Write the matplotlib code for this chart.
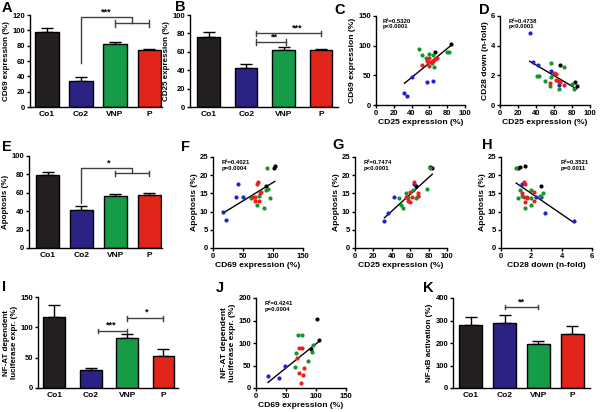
import numpy as np
import matplotlib
matplotlib.use('Agg')
import matplotlib.pyplot as plt

plt.rcParams['font.family'] = ['Liberation Sans', 'DejaVu Sans']
plt.rcParams['font.weight'] = 'bold'
plt.rcParams['axes.labelweight'] = 'bold'
plt.rcParams['axes.linewidth'] = 1.0
plt.rcParams['xtick.major.width'] = 1.0
plt.rcParams['ytick.major.width'] = 1.0
plt.rcParams['xtick.major.size'] = 2.5
plt.rcParams['ytick.major.size'] = 2.5

# ---- data ----
groups = ['Co1', 'Co2', 'VNP', 'P']
bar_colors = ['#231f20', '#2b2383', '#169b47', '#e1251b']
dot_colors = {'Co1': '#000000', 'Co2': '#1c22d6', 'VNP': '#10962c', 'P': '#f01c1c'}

cd69_mean = [98, 34, 82, 74]
cd69_err = [5, 5.5, 2.5, 1.5]
cd25_mean = [76.5, 42, 62, 62]
cd25_err = [5.5, 4.5, 3.5, 1]
apo_mean = [79, 41.5, 56, 58]
apo_err = [3.5, 4.5, 2.5, 2]
nfat_mean = [116.5, 29.5, 82, 52.5]
nfat_err = [20, 4, 7, 11]
nfkb_mean = [282, 289, 197, 240]
nfkb_err = [35, 35, 12, 36]

# C: CD25 vs CD69
c_x = [32, 35, 41, 57, 64, 66, 84, 48, 52, 56, 60, 58, 64, 65, 80, 82, 63,
       52, 57, 60, 62, 64, 66, 69, 59]
c_y = [20, 16, 48, 38, 41, 89, 102, 95, 85, 79, 86, 72, 85, 64, 90, 90, 70,
       68, 75, 80, 72, 75, 77, 80, 66]
c_grp = ['Co2'] * 5 + ['Co1'] * 2 + ['VNP'] * 10 + ['P'] * 8

# D: CD25 vs CD28 down
d_x = [33, 37, 42.5, 57, 65, 67, 83, 85, 57, 41, 43, 50, 55, 66, 71, 80, 82, 64, 57,
       55, 60, 62, 62, 65, 67, 71]
d_y = [4.83, 2.9, 2.7, 2.3, 1.35, 2.7, 1.53, 1.25, 2.8, 1.95, 1.95, 1.65, 1.28, 1.1,
       2.58, 1.4, 1.05, 1.6, 1.9, 1.5, 2.18, 2.1, 1.7, 1.65, 1.55, 1.38]
d_grp = ['Co2'] * 5 + ['Co1'] * 3 + ['VNP'] * 11 + ['P'] * 7

# F: CD69 vs apoptosis
f_x = [17, 22, 38, 42, 50, 89, 101, 103, 63, 73, 77, 85, 90, 91, 95, 88,
       67, 70, 70, 73, 75, 76, 78, 80]
f_y = [9.8, 7.6, 13.9, 17.5, 13.9, 17, 22.1, 22.4, 13.8, 11.8, 14.2, 11, 22, 16.3,
       13.7, 15.8, 13.9, 14, 12.8, 17.7, 18.1, 13, 15, 15.3]
f_grp = ['Co2'] * 5 + ['Co1'] * 3 + ['VNP'] * 8 + ['P'] * 8

# G: CD25 vs apoptosis
g_x = [32, 36, 42, 56, 64, 66, 82, 84, 48, 50, 52, 55, 58, 63, 66, 69, 78, 81,
       55, 58, 60, 60, 62, 64, 68, 68]
g_y = [7.5, 9.7, 13.9, 13.9, 17.5, 17, 22.3, 22.1, 13.7, 11.8, 11, 15, 13.8, 16,
       13.8, 14.2, 16.2, 22, 14, 12.8, 12.7, 15.3, 14, 18, 15, 14.2]
g_grp = ['Co2'] * 5 + ['Co1'] * 3 + ['VNP'] * 10 + ['P'] * 8

# H: CD28 down vs apoptosis
h_x = [1.4, 2.3, 2.65, 2.9, 4.8, 1.1, 1.25, 1.55, 2.65, 1.0, 1.15, 1.25, 1.4, 1.6,
       1.7, 1.95, 2.0, 2.55, 2.8, 1.95, 1.4, 1.5, 1.5, 1.55, 1.6, 1.7, 2.15, 2.2]
h_y = [17.5, 13.9, 13.9, 9.7, 7.5, 22, 22.2, 22.4, 17, 22, 13.7, 15.8, 14.2, 11,
       13.8, 16, 11.8, 14.2, 15.1, 13.7, 15, 18, 14, 17.5, 12.7, 14, 15.3, 12.8]
h_grp = ['Co2'] * 5 + ['Co1'] * 4 + ['VNP'] * 11 + ['P'] * 8

# J: CD69 vs NF-AT
j_x = [20, 38, 48, 92, 102, 105, 65, 67, 70, 77, 87, 93, 95,
       68, 72, 72, 77, 78, 80, 75]
j_y = [27, 23, 50, 87, 153, 107, 47, 78, 117, 118, 60, 80, 96,
       67, 89, 33, 89, 30, 44, 12]
j_grp = ['Co2'] * 3 + ['Co1'] * 3 + ['VNP'] * 7 + ['P'] * 7

W, H = 600.0, 412.0
fig = plt.figure(figsize=(6, 4.12), dpi=100)

TICK_FS = 5.5
LAB_FS = 5.8


def add_ax(left, top, right, bottom):
    ax = fig.add_axes([left / W, 1 - bottom / H, (right - left) / W, (bottom - top) / H])
    ax.spines['top'].set_visible(False)
    ax.spines['right'].set_visible(False)
    ax.tick_params(labelsize=TICK_FS, pad=1)
    return ax


def bar_panel(ax, means, errs, ylim, yticks, ylabel, xlim, width=0.68):
    x = np.arange(len(groups))
    ax.bar(x, means, width=width, color=bar_colors, edgecolor='black', linewidth=1.0, zorder=2)
    ax.errorbar(x, means, yerr=[np.zeros(len(errs)), errs], fmt='none', ecolor='black',
                elinewidth=1.0, capsize=4, capthick=1.0, zorder=1)
    ax.set_xticks(x)
    ax.set_xticklabels(groups, fontsize=6)
    ax.tick_params(axis='x', length=0, pad=3)
    ax.set_xlim(*xlim)
    ax.set_ylim(*ylim)
    ax.set_yticks(yticks)
    ax.set_ylabel(ylabel, fontsize=LAB_FS, labelpad=1.5)


def scatter_panel(ax, xs, ys, grp, xlim, xticks, ylim, yticks, xlabel, ylabel, stats, tx, ty):
    for g in groups:
        px = [a for a, k in zip(xs, grp) if k == g]
        py = [b for b, k in zip(ys, grp) if k == g]
        ax.scatter(px, py, s=9, color=dot_colors[g], linewidths=0, zorder=3)
    m, b = np.polyfit(xs, ys, 1)
    xx = np.array([min(xs), max(xs)])
    ax.plot(xx, m * xx + b, color='black', lw=1.0, zorder=2)
    ax.set_xlim(*xlim)
    ax.set_xticks(xticks)
    ax.set_ylim(*ylim)
    ax.set_yticks(yticks)
    ax.set_xlabel(xlabel, fontsize=LAB_FS + 0.3, labelpad=1.5)
    ax.set_ylabel(ylabel, fontsize=LAB_FS + 0.3, labelpad=1.5)
    ax.text(tx, ty, stats, transform=ax.transAxes, fontsize=4.3, va='top', ha='left',
            linespacing=1.2)


def hbracket(ax, x1, x2, y, cap, color='#404040'):
    ax.plot([x1, x2], [y, y], color=color, lw=1.0)
    ax.plot([x1, x1], [y - cap, y + cap], color=color, lw=1.0)
    ax.plot([x2, x2], [y - cap, y + cap], color=color, lw=1.0)


def elbow(ax, x0, y0, ytop, x1, y1, color='#404040'):
    ax.plot([x0, x0, x1, x1], [y0, ytop, ytop, y1], color=color, lw=1.0)


# A
axA = add_ax(30, 15, 162, 107)
bar_panel(axA, cd69_mean, cd69_err, (0, 120), range(0, 121, 20), 'CD69 expression (%)', (-0.5, 3.38))
elbow(axA, 1, 57, 117, 2.5, 109)
hbracket(axA, 2, 3, 109, 4)
axA.text(1.75, 117.5, '***', ha='center', va='bottom', fontsize=6.5, clip_on=False)

# B
axB = add_ax(190, 15, 338, 107)
bar_panel(axB, cd25_mean, cd25_err, (0, 100), range(0, 101, 20), 'CD25 expression (%)', (-0.5, 3.45), width=0.6)
hbracket(axB, 1.25, 3.0, 80, 3)
hbracket(axB, 1.25, 2.05, 70.5, 3)
axB.text(2.35, 81, '***', ha='center', va='bottom', fontsize=6.5)
axB.text(1.75, 71.5, '**', ha='center', va='bottom', fontsize=6.5)

# C
axC = add_ax(376, 16, 465, 105)
scatter_panel(axC, c_x, c_y, c_grp, (0, 100), range(0, 101, 20), (0, 150), [0, 50, 100, 150],
              'CD25 expression (%)', 'CD69 expression (%)', 'R²=0.5320\np<0.0001', 0.08, 0.97)

# D
axD = add_ax(500, 16, 590, 105)
scatter_panel(axD, d_x, d_y, d_grp, (0, 100), range(0, 101, 20), (0, 6), [0, 2, 4, 6],
              'CD25 expression (%)', 'CD28 down (n-fold)', 'R²=0.4738\np<0.0001', 0.1, 0.97)

# E
axE = add_ax(29, 156, 162, 248)
bar_panel(axE, apo_mean, apo_err, (0, 100), range(0, 101, 20), 'Apoptosis (%)', (-0.55, 3.38))
elbow(axE, 1, 49, 87, 2.5, 81)
hbracket(axE, 2, 3, 81, 3)
axE.text(1.8, 87.5, '*', ha='center', va='bottom', fontsize=6.5)

# F
axF = add_ax(213, 157, 303, 248)
scatter_panel(axF, f_x, f_y, f_grp, (0, 150), [0, 50, 100, 150], (0, 25), range(0, 26, 5),
              'CD69 expression (%)', 'Apoptosis (%)', 'R²=0.4021\np=0.0004', 0.1, 0.97)

# G
axG = add_ax(355, 157, 447, 248)
scatter_panel(axG, g_x, g_y, g_grp, (0, 100), range(0, 101, 20), (0, 25), range(0, 26, 5),
              'CD25 expression (%)', 'Apoptosis (%)', 'R²=0.7474\np<0.0001', 0.09, 0.97)

# H
axH = add_ax(501, 157, 592, 248)
scatter_panel(axH, h_x, h_y, h_grp, (0, 6), [0, 2, 4, 6], (0, 25), range(0, 26, 5),
              'CD28 down (n-fold)', 'Apoptosis (%)', 'R²=0.3521\np=0.0011', 0.65, 0.97)

# I
axI = add_ax(38, 297, 178, 388)
bar_panel(axI, nfat_mean, nfat_err, (0, 150), [0, 50, 100, 150],
          'NF-AT dependent\nluciferase expr. (%)', (-0.45, 3.4), width=0.6)
hbracket(axI, 1.2, 2.0, 94, 4)
hbracket(axI, 2.0, 3.0, 115, 4)
axI.text(1.55, 96, '***', ha='center', va='bottom', fontsize=6.5)
axI.text(2.55, 117, '*', ha='center', va='bottom', fontsize=6.5)

# J
axJ = add_ax(256, 298, 346, 388)
scatter_panel(axJ, j_x, j_y, j_grp, (0, 150), [0, 50, 100, 150], (0, 200), range(0, 201, 50),
              'CD69 expression (%)', 'NF-AT dependent\nluciferase expr. (%)', 'R²=0.4241\np=0.0004', 0.1, 0.97)

# K
axK = add_ax(453, 298, 590, 388)
bar_panel(axK, nfkb_mean, nfkb_err, (0, 400), range(0, 401, 100), 'NF-\u03baB activation (%)', (-0.53, 3.53))
hbracket(axK, 1, 2, 360, 10)
axK.text(1.5, 362, '**', ha='center', va='bottom', fontsize=6.5)

# panel letters
letters = {'A': (2, 1), 'B': (175, 0), 'C': (334, 3), 'D': (479, 3), 'E': (2, 140), 'F': (181, 140),
           'G': (332, 138), 'H': (482, 138), 'I': (2, 280), 'J': (216, 281), 'K': (423, 281)}
for k, (x, y) in letters.items():
    fig.text(x / W, 1 - y / H, k, fontsize=10.5, fontweight='bold', ha='left', va='top')

fig.savefig('out.png', dpi=100)
